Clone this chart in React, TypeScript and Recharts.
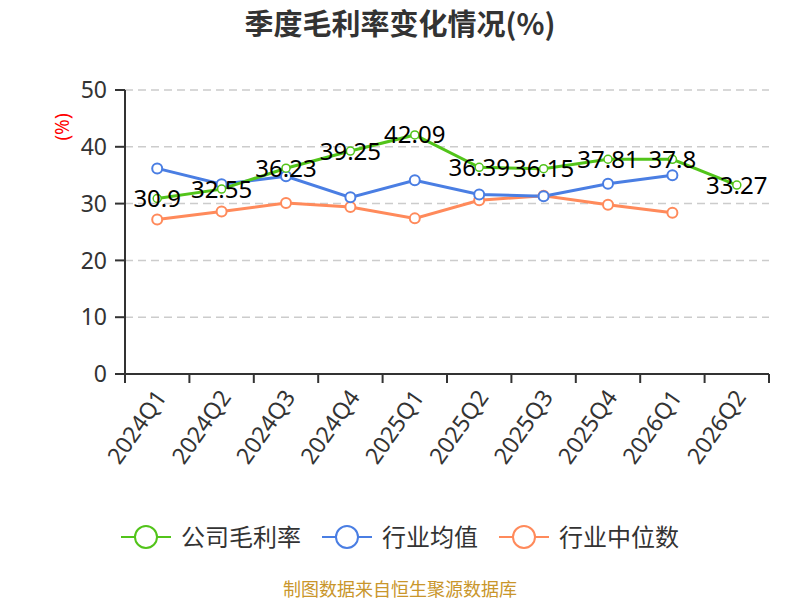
import { CartesianGrid, LabelList, Legend, Line, LineChart, XAxis, YAxis } from 'recharts'

const QUARTERS = ['2024Q1', '2024Q2', '2024Q3', '2024Q4', '2025Q1', '2025Q2', '2025Q3', '2025Q4', '2026Q1', '2026Q2']
const COMPANY_MARGIN = [30.9, 32.55, 36.23, 39.25, 42.09, 36.39, 36.15, 37.81, 37.8, 33.27]
const INDUSTRY_MEAN = [36.2, 33.4, 34.8, 31.1, 34.1, 31.6, 31.3, 33.5, 35.0, null]
const INDUSTRY_MEDIAN = [27.2, 28.6, 30.1, 29.4, 27.4, 30.6, 31.4, 29.8, 28.4, null]
const Y_TICKS = [0, 10, 20, 30, 40, 50]

const SERIES = [
  { key: 'company', name: '公司毛利率', color: '#52c41a' },
  { key: 'mean', name: '行业均值', color: '#4a7ee3' },
  { key: 'median', name: '行业中位数', color: '#ff8a5b' },
]

const FONT = '"Noto Sans", "Noto Sans CJK SC", sans-serif'
const AXIS_COLOR = '#333'

// each quarter sits in the middle of its band; integer positions are the band edges
const data = QUARTERS.map((quarter, i) => ({
  quarter,
  pos: i + 0.5,
  company: COMPANY_MARGIN[i],
  mean: INDUSTRY_MEAN[i],
  median: INDUSTRY_MEDIAN[i],
}))
const X_TICKS = [0, ...data.flatMap((d) => [d.pos, d.pos + 0.5])]

function QuarterTick({ x, y, payload }: { x?: number; y?: number; payload?: { value: number } }) {
  const v = payload?.value ?? 0
  const px = x ?? 0
  const py = y ?? 0
  if (Number.isInteger(v)) {
    return <line x1={px} y1={py} x2={px} y2={py + 9} stroke={AXIS_COLOR} strokeWidth={2} />
  }
  const tx = px + 3
  const ty = py + 18
  return (
    <text
      x={tx}
      y={ty}
      transform={`rotate(-55 ${tx} ${ty})`}
      textAnchor="end"
      dominantBaseline="central"
      fontSize={23}
      fontFamily={FONT}
      fill={AXIS_COLOR}
    >
      {QUARTERS[Math.floor(v)]}
    </text>
  )
}

function ValueLabel({ x, y, value }: { x?: number | string; y?: number | string; value?: number | string }) {
  return (
    <text
      x={Number(x)}
      y={Number(y) - 1}
      textAnchor="middle"
      dominantBaseline="central"
      fontSize={24}
      fontFamily={FONT}
      fill="#000"
    >
      {value}
    </text>
  )
}

function PercentLabel({ viewBox }: { viewBox?: { x: number; y: number } }) {
  const x = (viewBox?.x ?? 0) + 62
  const y = (viewBox?.y ?? 0) + 37
  return (
    <text
      x={x}
      y={y}
      transform={`rotate(-90 ${x} ${y})`}
      textAnchor="middle"
      dominantBaseline="central"
      fontSize={19}
      fontFamily={FONT}
      fill="#ff0000"
    >
      (%)
    </text>
  )
}

function LegendContent() {
  return (
    <div style={{ height: 110, width: 800, fontFamily: FONT, position: 'relative' }}>
      <div
        style={{
          position: 'absolute',
          top: 33,
          left: 0,
          right: 0,
          display: 'flex',
          justifyContent: 'center',
          gap: 21,
        }}
      >
        {SERIES.map((s) => (
          <div key={s.key} style={{ display: 'flex', alignItems: 'center', gap: 10 }}>
            <svg width={50} height={28}>
              <line x1={0} y1={14} x2={50} y2={14} stroke={s.color} strokeWidth={2} />
              <circle cx={25} cy={14} r={11} fill="#fff" stroke={s.color} strokeWidth={2} />
            </svg>
            <span style={{ fontSize: 24, color: '#333', lineHeight: '28px' }}>{s.name}</span>
          </div>
        ))}
      </div>
      <div
        style={{
          position: 'absolute',
          top: 90,
          left: 0,
          right: 0,
          textAlign: 'center',
          fontSize: 18,
          lineHeight: '18px',
          color: '#c9962b',
        }}
      >
        制图数据来自恒生聚源数据库
      </div>
    </div>
  )
}

export default function App() {
  return (
    <div style={{ position: 'relative', width: 800, height: 600, background: '#fff' }}>
      <style>{'body{margin:0}'}</style>
      <div
        style={{
          position: 'absolute',
          top: 3,
          left: 0,
          width: 800,
          textAlign: 'center',
          fontFamily: '"Noto Sans CJK SC", sans-serif',
          fontWeight: 'bold',
          fontSize: 29,
          lineHeight: '38px',
          color: '#333',
        }}
      >
        季度毛利率变化情况(%)
      </div>
      <LineChart width={800} height={600} data={data} margin={{ top: 90, right: 31, bottom: 0, left: 0 }}>
        <CartesianGrid vertical={false} stroke="#ccc" strokeWidth={1.5} strokeDasharray="8 5" />
        <XAxis
          dataKey="pos"
          type="number"
          domain={[0, QUARTERS.length]}
          ticks={X_TICKS}
          interval={0}
          height={116}
          tickSize={0}
          tickMargin={0}
          tickLine={false}
          stroke={AXIS_COLOR}
          strokeWidth={2}
          tick={<QuarterTick />}
        />
        <YAxis
          width={125}
          domain={[0, 50]}
          ticks={Y_TICKS}
          tickSize={10}
          tickMargin={8}
          stroke={AXIS_COLOR}
          strokeWidth={2}
          tick={{ fontSize: 23, fill: AXIS_COLOR, fontFamily: FONT }}
          label={<PercentLabel />}
        />
        <Legend verticalAlign="bottom" wrapperStyle={{ left: 0, width: 800 }} content={<LegendContent />} />
        <Line
          dataKey="median"
          stroke="#ff8a5b"
          strokeWidth={3}
          dot={{ r: 5, fill: '#fff', stroke: '#ff8a5b', strokeWidth: 2 }}
          isAnimationActive={false}
        />
        <Line
          dataKey="mean"
          stroke="#4a7ee3"
          strokeWidth={3}
          dot={{ r: 5, fill: '#fff', stroke: '#4a7ee3', strokeWidth: 2 }}
          isAnimationActive={false}
        />
        <Line
          dataKey="company"
          stroke="#52c41a"
          strokeWidth={3}
          dot={{ r: 4, fill: '#fff', stroke: '#52c41a', strokeWidth: 1.5 }}
          isAnimationActive={false}
        >
          <LabelList dataKey="company" content={<ValueLabel />} />
        </Line>
      </LineChart>
    </div>
  )
}
